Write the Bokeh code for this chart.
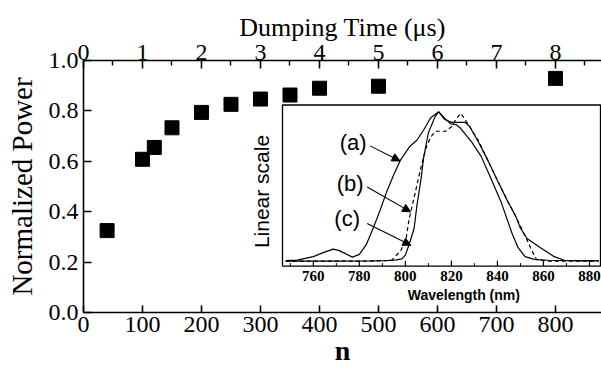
import math
from bokeh.plotting import figure
from bokeh.models import (Range1d, LinearAxis, FixedTicker, PrintfTickFormatter,
                          Arrow, NormalHead)
from bokeh.core.properties import value
from bokeh.embed import file_html
from bokeh.resources import INLINE

# ---------------- main data ----------------
n_values = [40, 100, 120, 150, 200, 250, 300, 350, 400, 500, 800]
norm_power = [0.325, 0.608, 0.655, 0.733, 0.794, 0.826, 0.847, 0.863, 0.890, 0.898, 0.929]
n_ticks = [0, 100, 200, 300, 400, 500, 600, 700, 800]
power_ticks = [0.0, 0.2, 0.4, 0.6, 0.8, 1.0]
time_ticks = [0, 1, 2, 3, 4, 5, 6, 7, 8]
time_minor_ticks = [0.5, 1.5, 2.5, 3.5, 4.5, 5.5, 6.5, 7.5, 8.5]

# ---------------- inset data (normalized spectra) ----------------
wl_a = [748, 753, 760, 764, 768.6, 771, 774, 777, 780, 783, 786, 789, 792, 795, 798,
        802, 805, 808, 811, 814.5, 817.5, 819.7, 822, 824, 826, 828.7, 833, 837,
        841.5, 844, 846.5, 849, 852, 856, 862, 872, 884]
int_a = [0.004, 0.007, 0.03, 0.055, 0.08, 0.072, 0.05, 0.027, 0.045, 0.11, 0.22, 0.34,
         0.47, 0.58, 0.68, 0.77, 0.81, 0.88, 0.96, 1.0, 0.95, 0.92, 0.915, 0.89, 0.85,
         0.80, 0.70, 0.56, 0.40, 0.29, 0.18, 0.09, 0.03, 0.012, 0.006, 0.004, 0.004]

wl_b = [748, 770, 785, 794, 798, 800.3, 801.6, 804.6, 806.8, 809, 811, 813, 815, 817.5,
        820, 822, 824, 825, 828, 832, 836, 840, 844.5, 848, 852, 855, 857, 862, 884]
int_b = [0.0, 0.0, 0.0, 0.005, 0.07, 0.15, 0.28, 0.48, 0.63, 0.76, 0.83, 0.87, 0.87, 0.87,
         0.90, 0.95, 0.99, 0.97, 0.90, 0.80, 0.67, 0.54, 0.40, 0.30, 0.17, 0.07, 0.01,
         0.0, 0.0]

wl_c = [748, 770, 785, 792, 796, 798.5, 800, 801.6, 803.8, 805, 806.8, 808, 810, 813,
        814.5, 817, 820, 823, 826, 828, 831.7, 836, 840, 844.5, 848, 850, 853, 858.7,
        864.7, 869, 876, 884]
int_c = [0.0, 0.0, 0.002, 0.004, 0.008, 0.015, 0.04, 0.11, 0.22, 0.37, 0.55, 0.70, 0.86,
         0.97, 1.0, 0.95, 0.93, 0.93, 0.93, 0.90, 0.80, 0.67, 0.54, 0.40, 0.30, 0.22,
         0.15, 0.09, 0.03, 0.006, 0.003, 0.004]

wl_major_ticks = [760, 780, 800, 820, 840, 860, 880]
wl_minor_ticks = [750, 770, 790, 810, 830, 850, 870]
curve_labels = ["(a)", "(b)", "(c)"]
label_wl = [777.3, 776.0, 774.7]
label_int = [0.795, 0.517, 0.285]
arrow_start_wl = [784.7, 783.4, 783.4]
arrow_start_int = [0.772, 0.497, 0.252]
arrow_end_wl = [797.7, 802.3, 802.4]
arrow_end_int = [0.671, 0.33, 0.106]

SERIF = "Liberation Serif"
SANS = "Liberation Sans"

p = figure(width=601, height=368, x_range=Range1d(0, 878), y_range=Range1d(0, 1.0),
           output_backend="svg", toolbar_location=None,
           min_border_left=83, min_border_right=0, min_border_top=60, min_border_bottom=53)
p.outline_line_color = None
p.xgrid.visible = False
p.ygrid.visible = False
p.background_fill_color = "white"
p.border_fill_color = "white"

p.extra_x_ranges = {"time": Range1d(0, 8.78)}
top_axis = LinearAxis(x_range_name="time")
p.add_layout(top_axis, "above")


def style_axis(ax, size="24px"):
    ax.axis_line_width = 1.6
    ax.major_tick_line_width = 1.6
    ax.minor_tick_line_width = 1.4
    ax.major_tick_in = 8
    ax.major_tick_out = 0
    ax.minor_tick_in = 0
    ax.minor_tick_out = 0
    ax.major_label_text_font = SERIF
    ax.major_label_text_font_size = size
    ax.major_label_text_color = "black"
    ax.axis_label_text_font = SERIF
    ax.axis_label_text_font_style = "normal"
    ax.axis_label_text_color = "black"
    ax.major_label_standoff = 5


xaxis = [a for a in p.below if isinstance(a, LinearAxis)][0]
yaxis = [a for a in p.left if isinstance(a, LinearAxis)][0]
for ax in (xaxis, yaxis, top_axis):
    style_axis(ax)

xaxis.ticker = FixedTicker(ticks=n_ticks, minor_ticks=[])
xaxis.axis_label = "n"
xaxis.axis_label_text_font_style = "bold"
xaxis.axis_label_text_font_size = "28px"
xaxis.axis_label_standoff = 0
xaxis.major_label_standoff = 4
xaxis.major_tick_in = 7

yaxis.ticker = FixedTicker(ticks=power_ticks, minor_ticks=[])
yaxis.formatter = PrintfTickFormatter(format="%.1f")
yaxis.axis_label = "Normalized Power"
yaxis.axis_label_text_font_size = "29px"
yaxis.axis_label_standoff = 8

top_axis.ticker = FixedTicker(ticks=time_ticks, minor_ticks=time_minor_ticks)
top_axis.minor_tick_in = 5
top_axis.axis_label = "Dumping Time (μs)"
top_axis.axis_label_text_font_size = "26px"
top_axis.axis_label_standoff = 0
top_axis.major_label_standoff = 1

# main scatter
p.scatter(n_values, norm_power, marker="square", size=14, color="black")

# ---------------- inset ----------------
xs = Range1d(746.6, 884.8)
ys = Range1d(-0.033, 1.046)
xt = Range1d(337.3, 876.3)
yt = Range1d(0.1843, 0.8235)
sub = p.subplot(x_source=xs, y_source=ys, x_target=xt, y_target=yt)

sub.quad(left=xs.start, right=xs.end, bottom=ys.start, top=ys.end,
         fill_color="white", line_color="black", line_width=1.3)
sub.line(wl_a, int_a, line_color="black", line_width=1.2)
sub.line(wl_b, int_b, line_color="black", line_width=1.2, line_dash="4 3")
sub.line(wl_c, int_c, line_color="black", line_width=1.2)

major_len = 0.035
minor_len = 0.02
sub.segment(x0=wl_major_ticks, y0=[ys.start] * len(wl_major_ticks),
            x1=wl_major_ticks, y1=[ys.start + major_len] * len(wl_major_ticks),
            line_color="black", line_width=1.2)
sub.segment(x0=wl_minor_ticks, y0=[ys.start] * len(wl_minor_ticks),
            x1=wl_minor_ticks, y1=[ys.start + minor_len] * len(wl_minor_ticks),
            line_color="black", line_width=1.0)
sub.text(x=wl_major_ticks, y=[ys.start] * len(wl_major_ticks),
         text=[str(t) for t in wl_major_ticks], text_align="center", text_baseline="top",
         y_offset=5, text_font=value(SERIF), text_font_style="bold",
         text_font_size="15px", text_color="black")
sub.text(x=[(wl_major_ticks[0] + wl_major_ticks[-1]) / 2 + 5.4], y=[ys.start],
         text=["Wavelength (nm)"], text_align="center", text_baseline="top",
         y_offset=21, text_font=value(SANS), text_font_style="bold",
         text_font_size="14px", text_color="black")
sub.text(x=[xs.start - 4], y=[(ys.start + ys.end) / 2 - 0.04], text=["Linear scale"],
         angle=math.pi / 2, text_align="center", text_baseline="bottom",
         text_font=value(SANS), text_font_size="21px", text_color="black")
sub.text(x=label_wl, y=label_int, text=curve_labels, text_align="center",
         text_baseline="middle", text_font=value(SANS), text_font_size="22px",
         text_color="black")


def to_main_x(w):
    return xt.start + (w - xs.start) * (xt.end - xt.start) / (xs.end - xs.start)


def to_main_y(v):
    return yt.start + (v - ys.start) * (yt.end - yt.start) / (ys.end - ys.start)


for x0, y0, x1, y1 in zip(arrow_start_wl, arrow_start_int, arrow_end_wl, arrow_end_int):
    p.add_layout(Arrow(end=NormalHead(size=8, fill_color="black", line_color="black"),
                       x_start=to_main_x(x0), y_start=to_main_y(y0),
                       x_end=to_main_x(x1), y_end=to_main_y(y1),
                       line_color="black", line_width=1.1))

open("out.html", "w").write(file_html(p, INLINE))
